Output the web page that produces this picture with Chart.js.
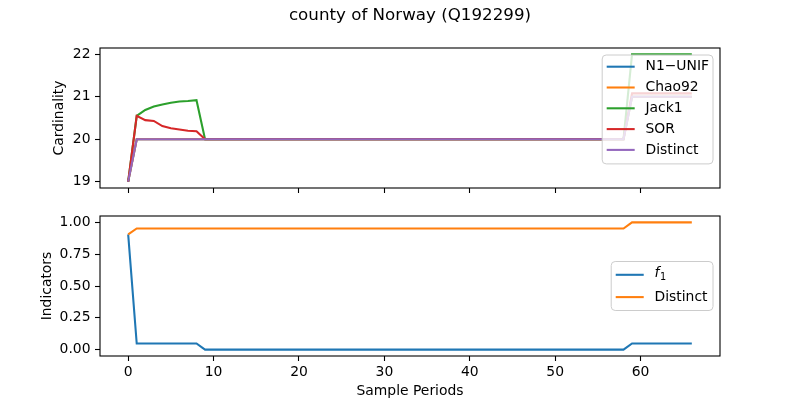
<!DOCTYPE html>
<html>
<head>
<meta charset="utf-8">
<script src="https://cdn.jsdelivr.net/npm/chart.js@4.4.1/dist/chart.umd.min.js"></script>
<style>
  html, body { margin: 0; padding: 0; background: #fff; }
  #wrap { position: relative; width: 800px; height: 400px; }
  #wrap canvas { position: absolute; left: 0; top: 0; }
</style>
</head>
<body>
<div id="wrap">
  <canvas id="cardinality" width="800" height="400"></canvas>
  <canvas id="indicators" width="800" height="400"></canvas>
</div>
<script>
// Sample periods (x)
const periods = [
  0, 1, 2, 3, 4, 5, 6, 7, 8, 9,
  10, 11, 12, 13, 14, 15, 16, 17, 18, 19,
  20, 21, 22, 23, 24, 25, 26, 27, 28, 29,
  30, 31, 32, 33, 34, 35, 36, 37, 38, 39,
  40, 41, 42, 43, 44, 45, 46, 47, 48, 49,
  50, 51, 52, 53, 54, 55, 56, 57, 58, 59,
  60, 61, 62, 63, 64, 65, 66
];

// Top panel: cardinality estimates
const n1Unif = [
  19,
  20, 20, 20, 20, 20, 20, 20, 20, 20, 20,
  20, 20, 20, 20, 20, 20, 20, 20, 20, 20,
  20, 20, 20, 20, 20, 20, 20, 20, 20, 20,
  20, 20, 20, 20, 20, 20, 20, 20, 20, 20,
  20, 20, 20, 20, 20, 20, 20, 20, 20, 20,
  20, 20, 20, 20, 20, 20, 20, 20,
  21, 21, 21, 21, 21, 21, 21, 21
];
const chao92 = [
  19,
  20, 20, 20, 20, 20, 20, 20, 20, 20, 20,
  20, 20, 20, 20, 20, 20, 20, 20, 20, 20,
  20, 20, 20, 20, 20, 20, 20, 20, 20, 20,
  20, 20, 20, 20, 20, 20, 20, 20, 20, 20,
  20, 20, 20, 20, 20, 20, 20, 20, 20, 20,
  20, 20, 20, 20, 20, 20, 20, 20,
  21, 21, 21, 21, 21, 21, 21, 21
];
const jack1 = [
  19,
  20.55, 20.69, 20.77, 20.82, 20.86, 20.89, 20.90, 20.92,
  20, 20, 20, 20, 20, 20, 20, 20, 20, 20,
  20, 20, 20, 20, 20, 20, 20, 20, 20, 20,
  20, 20, 20, 20, 20, 20, 20, 20, 20, 20,
  20, 20, 20, 20, 20, 20, 20, 20, 20, 20,
  20, 20, 20, 20, 20, 20, 20, 20, 20, 20,
  22, 22, 22, 22, 22, 22, 22, 22
];
const sor = [
  19,
  20.55, 20.45, 20.43, 20.31, 20.26, 20.23, 20.20, 20.19,
  20, 20, 20, 20, 20, 20, 20, 20, 20, 20,
  20, 20, 20, 20, 20, 20, 20, 20, 20, 20,
  20, 20, 20, 20, 20, 20, 20, 20, 20, 20,
  20, 20, 20, 20, 20, 20, 20, 20, 20, 20,
  20, 20, 20, 20, 20, 20, 20, 20, 20, 20,
  21.08, 21.08, 21.08, 21.08, 21.08, 21.08, 21.08, 21.08
];
const distinct = [
  19,
  20, 20, 20, 20, 20, 20, 20, 20, 20, 20,
  20, 20, 20, 20, 20, 20, 20, 20, 20, 20,
  20, 20, 20, 20, 20, 20, 20, 20, 20, 20,
  20, 20, 20, 20, 20, 20, 20, 20, 20, 20,
  20, 20, 20, 20, 20, 20, 20, 20, 20, 20,
  20, 20, 20, 20, 20, 20, 20, 20,
  21, 21, 21, 21, 21, 21, 21, 21
];

// Bottom panel: indicators
const f1 = [
  0.905,
  0.048, 0.048, 0.048, 0.048, 0.048, 0.048, 0.048, 0.048,
  0, 0, 0, 0, 0, 0, 0, 0, 0, 0,
  0, 0, 0, 0, 0, 0, 0, 0, 0, 0,
  0, 0, 0, 0, 0, 0, 0, 0, 0, 0,
  0, 0, 0, 0, 0, 0, 0, 0, 0, 0,
  0, 0, 0, 0, 0, 0, 0, 0, 0, 0,
  0.048, 0.048, 0.048, 0.048, 0.048, 0.048, 0.048, 0.048
];
const distinctInd = [
  0.905,
  0.952, 0.952, 0.952, 0.952, 0.952, 0.952, 0.952, 0.952, 0.952, 0.952,
  0.952, 0.952, 0.952, 0.952, 0.952, 0.952, 0.952, 0.952, 0.952, 0.952,
  0.952, 0.952, 0.952, 0.952, 0.952, 0.952, 0.952, 0.952, 0.952, 0.952,
  0.952, 0.952, 0.952, 0.952, 0.952, 0.952, 0.952, 0.952, 0.952, 0.952,
  0.952, 0.952, 0.952, 0.952, 0.952, 0.952, 0.952, 0.952, 0.952, 0.952,
  0.952, 0.952, 0.952, 0.952, 0.952, 0.952, 0.952, 0.952,
  1, 1, 1, 1, 1, 1, 1, 1
];

// Tick labels
const xTicks = [0, 10, 20, 30, 40, 50, 60];
const yTicksTop = [19, 20, 21, 22];
const yTicksBottom = [0, 0.25, 0.5, 0.75, 1];

const FONT = "'DejaVu Sans', sans-serif";
const FS = 13.9;
const LW = 2.08;

function toPoints(values) {
  return periods.map((x, i) => ({ x: x, y: values[i] }));
}

// black box around the plot area (matplotlib spines)
const frame = {
  id: 'frame',
  afterDraw(chart) {
    const { ctx, chartArea: a } = chart;
    ctx.save();
    ctx.strokeStyle = '#000';
    ctx.lineWidth = 1.1;
    ctx.strokeRect(a.left, a.top, a.right - a.left, a.bottom - a.top);
    ctx.restore();
  }
};

// draws "f_1" as italic f with subscript 1, other labels as plain text
function labelWidth(ctx, label) {
  if (label.indexOf('_') < 0) {
    ctx.font = `${FS}px ${FONT}`;
    return ctx.measureText(label).width;
  }
  const [base, sub] = label.split('_');
  ctx.font = `italic ${FS}px ${FONT}`;
  let w = ctx.measureText(base).width;
  ctx.font = `${FS * 0.7}px ${FONT}`;
  return w + ctx.measureText(sub).width;
}

function drawLabel(ctx, label, x, y) {
  ctx.fillStyle = '#000';
  ctx.textBaseline = 'middle';
  ctx.textAlign = 'left';
  if (label.indexOf('_') < 0) {
    ctx.font = `${FS}px ${FONT}`;
    ctx.fillText(label, x, y);
    return;
  }
  const [base, sub] = label.split('_');
  ctx.font = `italic ${FS}px ${FONT}`;
  ctx.fillText(base, x, y - 1);
  const w = ctx.measureText(base).width;
  ctx.font = `${FS * 0.7}px ${FONT}`;
  ctx.fillText(sub, x + w + 0.5, y + 3);
}

// legend drawn inside the plot area, matplotlib style
const innerLegend = {
  id: 'innerLegend',
  afterDatasetsDraw(chart, args, opts) {
    const { ctx, chartArea: a } = chart;
    const items = chart.data.datasets.map(d => ({ label: d.label, color: d.borderColor }));
    ctx.save();
    const textW = Math.max(...items.map(it => labelWidth(ctx, it.label)));
    const w = 4.5 + 28 + 10.8 + textW + opts.padRight;
    const h = opts.padTop + (items.length - 1) * opts.rowH + opts.padBottom;
    const x = a.right - 7 - w;
    const y = opts.vcenter ? (a.top + a.bottom) / 2 - h / 2 : a.top + 7;

    ctx.beginPath();
    ctx.roundRect(x, y, w, h, 4);
    ctx.fillStyle = 'rgba(255,255,255,0.8)';
    ctx.fill();
    ctx.strokeStyle = '#cccccc';
    ctx.lineWidth = 1;
    ctx.stroke();

    items.forEach((it, i) => {
      const cy = y + opts.padTop + i * opts.rowH;
      ctx.beginPath();
      ctx.moveTo(x + 4.5, cy);
      ctx.lineTo(x + 4.5 + 28, cy);
      ctx.strokeStyle = it.color;
      ctx.lineWidth = LW;
      ctx.stroke();
      drawLabel(ctx, it.label, x + 4.5 + 28 + 10.8, cy);
    });
    ctx.restore();
  }
};

const figTitle = {
  id: 'figTitle',
  afterDraw(chart, args, opts) {
    if (!opts.text) return;
    const { ctx, chartArea: a } = chart;
    ctx.save();
    ctx.font = `16.7px ${FONT}`;
    ctx.fillStyle = '#000';
    ctx.textAlign = 'center';
    ctx.textBaseline = 'alphabetic';
    ctx.fillText(opts.text, (a.left + a.right) / 2, 20);
    ctx.restore();
  }
};

function xScale(showLabels) {
  return {
    type: 'linear',
    min: -3.3,
    max: 69.3,
    afterBuildTicks: s => { s.ticks = xTicks.map(v => ({ value: v })); },
    afterFit: s => { s.height = showLabels ? 44 : 212; },
    grid: { drawOnChartArea: false, drawTicks: true, tickLength: 5, tickWidth: 1.1, tickColor: '#000' },
    border: { display: false },
    ticks: {
      display: showLabels,
      color: '#000',
      font: { family: FONT, size: FS },
      padding: 3,
      maxRotation: 0,
      autoSkip: false
    },
    title: {
      display: showLabels,
      text: 'Sample Periods',
      color: '#000',
      font: { family: FONT, size: FS },
      padding: { top: 2, bottom: 0 }
    }
  };
}

function yScale(min, max, ticks, fmt, title, titlePad) {
  return {
    type: 'linear',
    min: min,
    max: max,
    afterBuildTicks: s => { s.ticks = ticks.map(v => ({ value: v })); },
    afterFit: s => { s.width = 100; },
    grid: { drawOnChartArea: false, drawTicks: true, tickLength: 5, tickWidth: 1.1, tickColor: '#000' },
    border: { display: false },
    ticks: {
      color: '#000',
      font: { family: FONT, size: FS },
      padding: 4.5,
      callback: fmt
    },
    title: {
      display: true,
      text: title,
      color: '#000',
      font: { family: FONT, size: FS },
      padding: { top: titlePad, bottom: 0 }
    }
  };
}

function line(label, values, color, i) {
  return {
    label: label,
    data: toPoints(values),
    borderColor: color,
    backgroundColor: color,
    borderWidth: LW,
    pointRadius: 0,
    tension: 0,
    fill: false,
    order: -i // later series drawn on top, like matplotlib
  };
}

new Chart(document.getElementById('cardinality'), {
  type: 'line',
  data: {
    datasets: [
      line('N1\u2212UNIF', n1Unif, '#1f77b4', 0),
      line('Chao92', chao92, '#ff7f0e', 1),
      line('Jack1', jack1, '#2ca02c', 2),
      line('SOR', sor, '#d62728', 3),
      line('Distinct', distinct, '#9467bd', 4)
    ]
  },
  options: {
    responsive: false,
    animation: false,
    layout: { padding: { top: 48, right: 80, bottom: 0, left: 0 } },
    scales: {
      x: xScale(false),
      y: yScale(18.85, 22.15, yTicksTop, v => String(v), 'Cardinality', 50.6)
    },
    plugins: {
      legend: { display: false },
      tooltip: { enabled: false },
      innerLegend: { padTop: 11.7, rowH: 20.8, padBottom: 14, padRight: 4, vcenter: false },
      figTitle: { text: 'county of Norway (Q192299)' }
    }
  },
  plugins: [innerLegend, frame, figTitle]
});

new Chart(document.getElementById('indicators'), {
  type: 'line',
  data: {
    datasets: [
      line('f_1', f1, '#1f77b4', 0),
      line('Distinct', distinctInd, '#ff7f0e', 1)
    ]
  },
  options: {
    responsive: false,
    animation: false,
    layout: { padding: { top: 216, right: 80, bottom: 0, left: 0 } },
    scales: {
      x: xScale(true),
      y: yScale(-0.05, 1.05, yTicksBottom, v => v.toFixed(2), 'Indicators', 39.5)
    },
    plugins: {
      legend: { display: false },
      tooltip: { enabled: false },
      innerLegend: { padTop: 13.3, rowH: 22.3, padBottom: 13.4, padRight: 5.5, vcenter: true }
    }
  },
  plugins: [innerLegend, frame]
});
</script>
</body>
</html>
